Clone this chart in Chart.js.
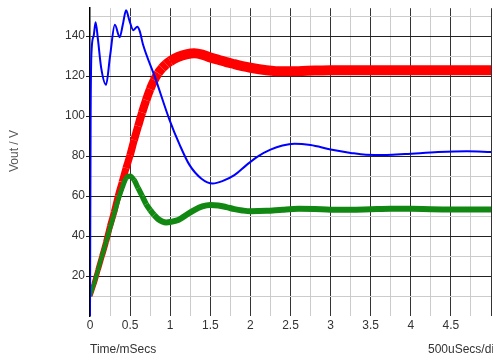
<!DOCTYPE html>
<html lang="en">
<head>
  <meta charset="UTF-8">
  <title>Vout vs Time</title>
  <script src="https://cdn.jsdelivr.net/npm/chart.js"></script>
  <style>
    * {
      margin: 0;
      padding: 0;
      box-sizing: border-box;
    }

    body {
      background-color: #fff;
      width: 493px;
      height: 360px;
      overflow: hidden;
    }

    .chart-container {
      position: relative;
      width: 493px;
      height: 360px;
    }
  </style>
</head>
<body>
  <div class="chart-container">
    <canvas id="voutChart"></canvas>
  </div>

  <script>
    // time (ms) shared by red and green traces
    const timeMain = [0, 0.05, 0.1, 0.15, 0.2, 0.25, 0.3, 0.35, 0.4, 0.45, 0.5, 0.55, 0.6, 0.65, 0.7, 0.75, 0.8, 0.85, 0.9, 0.95,
      1.0, 1.1, 1.2, 1.3, 1.4, 1.5, 1.6, 1.7, 1.8, 1.9, 2.0, 2.2, 2.4, 2.6, 2.8, 3.0, 3.25, 3.5, 3.75, 4.0, 4.25, 4.5, 4.75, 5.0];

    const redValues = [10, 16, 23, 30, 37, 45, 52, 60, 67, 74, 80.5, 88, 95, 101.8, 108, 113.5, 118, 121.5, 124, 126,
      127.5, 129.6, 130.9, 131.5, 130.8, 129.3, 128.2, 127, 126, 125, 124.2, 123, 122.4, 122.5, 122.8, 123, 123, 123, 123, 123, 123, 123, 123, 123];

    const greenValues = [10, 16, 23, 30, 37, 44, 51, 58, 64, 69, 70, 68, 64, 60, 56, 53, 50.5, 48.5, 47.3, 46.8,
      47, 48, 50.5, 53, 54.8, 55.5, 55.3, 54.5, 53.5, 52.8, 52.4, 52.6, 53.2, 53.6, 53.5, 53.2, 53.2, 53.4, 53.6, 53.6, 53.4, 53.3, 53.3, 53.3];

    // blue trace has its own, finer time base
    const blueTime = [0, 0.008, 0.02, 0.045, 0.07, 0.1, 0.14, 0.2, 0.25, 0.31, 0.37, 0.41, 0.45, 0.49, 0.54, 0.59, 0.62,
      0.66, 0.81, 0.99, 1.12, 1.24, 1.39, 1.53, 1.65, 1.8, 1.95, 2.1, 2.25, 2.4, 2.55, 2.75, 3.0, 3.25, 3.44, 3.7, 3.93, 4.34, 4.7, 5.0];

    const blueValues = [0, 100, 133, 140, 147, 138, 124, 115.7, 130, 145.7, 139.5, 146, 153, 148, 143, 144.7, 142.5,
      136, 119.5, 98.3, 85.5, 75.6, 68.7, 66.3, 67.5, 70.5, 75.5, 80, 83.2, 85.3, 86.2, 85.5, 83.3, 81.6, 80.7, 80.6, 81, 82, 82.4, 82];

    const xTickLabels = [0, 0.5, 1, 1.5, 2, 2.5, 3, 3.5, 4, 4.5];
    const yTickLabels = [20, 40, 60, 80, 100, 120, 140];

    const toPoints = (xs, ys) => xs.map((x, i) => ({ x: x, y: ys[i] }));

    const isMultiple = (v, step) => Math.abs(v / step - Math.round(v / step)) < 1e-6;

    // traces get thicker (ripple band) once they settle
    const redWidth = (ctx) => 5 + 5 * Math.min(1, ctx.p0.parsed.x / 1.0);
    const greenWidth = (ctx) => 4 + 2 * Math.min(1, ctx.p0.parsed.x / 0.8);

    const textPlugin = {
      id: 'scopeText',
      afterDraw(chart) {
        const ctx = chart.ctx;
        ctx.save();
        ctx.font = '12px "Liberation Sans", Arial, sans-serif';
        ctx.fillStyle = '#333';
        ctx.textBaseline = 'middle';
        ctx.textAlign = 'left';
        ctx.fillText('Time/mSecs', 90, 350);
        ctx.fillText('500uSecs/div', 428, 350);
        ctx.translate(15, 151);
        ctx.rotate(-Math.PI / 2);
        ctx.textAlign = 'center';
        ctx.fillStyle = '#555';
        ctx.fillText('Vout / V', 0, 0);
        ctx.restore();
      }
    };

    new Chart(document.getElementById('voutChart').getContext('2d'), {
      type: 'line',
      data: {
        datasets: [
          {
            label: 'blue',
            data: toPoints(blueTime, blueValues),
            borderColor: '#0000ff',
            borderWidth: 2,
            pointRadius: 0,
            cubicInterpolationMode: 'monotone',
            order: 0
          },
          {
            label: 'green',
            data: toPoints(timeMain, greenValues),
            borderColor: '#118811',
            borderWidth: 5,
            pointRadius: 0,
            cubicInterpolationMode: 'monotone',
            segment: { borderWidth: greenWidth },
            order: 1
          },
          {
            label: 'red',
            data: toPoints(timeMain, redValues),
            borderColor: '#ff0000',
            borderWidth: 8,
            pointRadius: 0,
            cubicInterpolationMode: 'monotone',
            segment: { borderWidth: redWidth },
            order: 2
          }
        ]
      },
      options: {
        responsive: true,
        maintainAspectRatio: false,
        animation: false,
        layout: { padding: { top: 5, left: 0, right: 0, bottom: 0 } },
        plugins: {
          legend: { display: false },
          tooltip: { enabled: false }
        },
        scales: {
          x: {
            type: 'linear',
            min: 0,
            max: 5,
            afterFit: (scale) => { scale.height = 44; },
            border: { display: false },
            grid: {
              drawTicks: false,
              color: (c) => {
                const v = c.tick.value;
                if (v === 0) return 'rgba(0,0,0,0)';
                return isMultiple(v, 0.5) ? '#333' : '#cccccc';
              }
            },
            ticks: {
              stepSize: 0.25,
              autoSkip: false,
              maxRotation: 0,
              padding: 2,
              color: '#333',
              font: { family: '"Liberation Sans", Arial, sans-serif', size: 12 },
              callback: (v) => xTickLabels.some((t) => Math.abs(t - v) < 1e-6) ? String(v) : ''
            }
          },
          y: {
            min: 0,
            max: 154,
            afterFit: (scale) => { scale.width = 90; },
            border: { display: true, color: '#000', width: 1.5 },
            grid: {
              tickLength: 4,
              color: (c) => {
                const v = c.tick.value;
                if (v === 0) return 'rgba(0,0,0,0)';
                if (isMultiple(v, 20)) return '#222';
                if (isMultiple(v, 10)) return '#cccccc';
                return 'rgba(0,0,0,0)';
              },
              tickColor: (c) => {
                const v = c.tick.value;
                return (v !== 0 && isMultiple(v, 20)) ? '#222' : 'rgba(0,0,0,0)';
              }
            },
            ticks: {
              stepSize: 10,
              includeBounds: false,
              autoSkip: false,
              padding: 1,
              color: '#333',
              font: { family: '"Liberation Sans", Arial, sans-serif', size: 12 },
              callback: (v) => yTickLabels.includes(v) ? String(v) : ''
            }
          }
        }
      },
      plugins: [textPlugin]
    });
  </script>
</body>
</html>
